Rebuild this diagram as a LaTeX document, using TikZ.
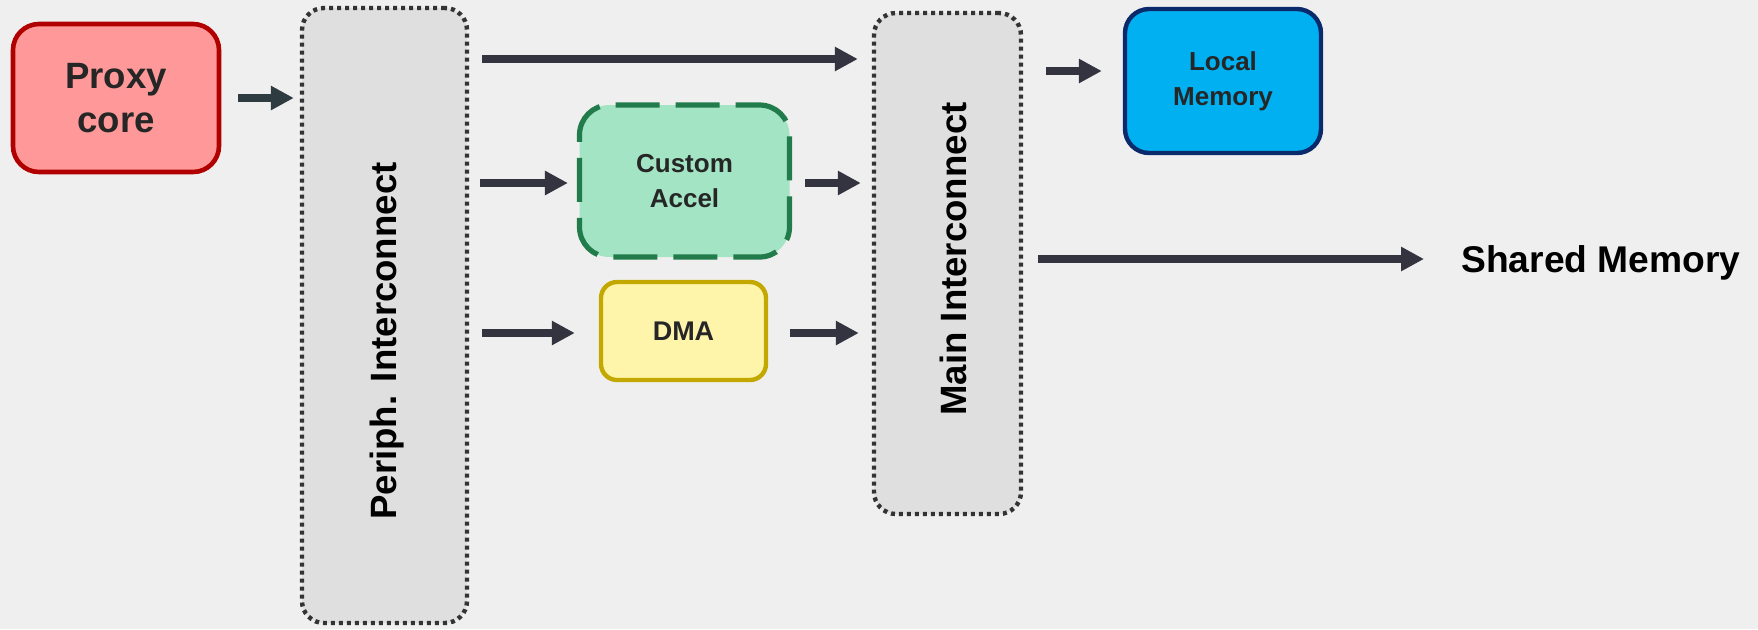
\documentclass[tikz,border=0pt]{standalone}
\usepackage{fontspec}
\setmainfont{Liberation Sans}
\usetikzlibrary{arrows.meta,calc}
\definecolor{bg}{HTML}{EFEFEF}
\definecolor{arrowc}{HTML}{33343F}
\definecolor{arrowd}{HTML}{2E3B40}
\definecolor{proxyfill}{HTML}{FF9999}
\definecolor{proxyline}{HTML}{B00000}
\definecolor{icfill}{HTML}{DFDFDF}
\definecolor{icline}{HTML}{333333}
\definecolor{accfill}{HTML}{A2E4C3}
\definecolor{accline}{HTML}{217B4A}
\definecolor{dmafill}{HTML}{FFF5AA}
\definecolor{dmaline}{HTML}{C2A800}
\definecolor{locfill}{HTML}{00B0F0}
\definecolor{locline}{HTML}{0B2A6B}
\definecolor{txt}{HTML}{262626}
\begin{document}
\begin{tikzpicture}[x=0.5pt,y=-0.5pt,
  blk/.style={align=center, inner sep=0pt, font=\bfseries, text=txt},
  icbox/.style={fill=icfill, draw=icline, line width=2.2pt, dash pattern=on 2pt off 2pt, rounded corners=11pt, inner sep=0pt},
  vlabel/.style={rotate=90, font=\fontsize{18.3}{21}\selectfont\bfseries, text=black, inner sep=0pt},
  arr/.style={draw=arrowc, line width=4pt, -{Triangle[length=11.5pt,width=11.5pt]}},
]
\fill[bg] (0,0) rectangle (1758,629);
\useasboundingbox (0,0) rectangle (1758,629);

% nodes
\node[blk, fill=proxyfill, draw=proxyline, line width=2.3pt, rounded corners=13pt,
      minimum width=103pt, minimum height=74pt, font=\fontsize{18.3}{22}\selectfont\bfseries]
      (proxy) at (116,98) {Proxy\\core};
\node[icbox, minimum width=82.5pt, minimum height=307.5pt] (periph) at (384.5,315.5) {};
\node[vlabel] (periphlbl) at (387,341) {Periph. Interconnect};
\node[icbox, minimum width=73.5pt, minimum height=250.5pt] (main) at (947.5,263.5) {};
\node[vlabel] (mainlbl) at (953,259) {Main Interconnect};
\node[blk, fill=accfill, draw=accline, line width=2.6pt, dash pattern=on 22pt off 8pt, dash phase=10pt,
      rounded corners=15pt, minimum width=105pt, minimum height=76pt,
      font=\fontsize{13}{17.5}\selectfont\bfseries]
      (accel) at (684.5,181) {Custom\\Accel};
\node[blk, fill=dmafill, draw=dmaline, line width=2.2pt, rounded corners=8pt,
      minimum width=82.5pt, minimum height=49pt, font=\fontsize{13.5}{16}\selectfont\bfseries]
      (dma) at (683.5,331) {DMA};
\node[blk, fill=locfill, draw=locline, line width=2.2pt, rounded corners=12pt,
      minimum width=98pt, minimum height=72pt, font=\fontsize{13}{17.5}\selectfont\bfseries]
      (local) at (1223,81) {Local\\Memory};
\node[font=\fontsize{18.6}{21}\selectfont\bfseries, text=black, anchor=west, inner sep=0pt]
      (shared) at (1461,263) {Shared Memory};

% row coordinates
\coordinate (r1) at (0,59);
\coordinate (r2) at (0,71);
\coordinate (r3) at (0,183);
\coordinate (r4) at (0,333);
\coordinate (r5) at (0,259);

% connectors
\draw[arr, draw=arrowd, shorten <=8.5pt, shorten >=3pt] (proxy.east) -- (proxy.east -| periph.west);
\draw[arr, shorten <=6.5pt, shorten >=7pt] (periph.east |- r1) -- (main.west |- r1);
\draw[arr, shorten <=5.5pt, shorten >=4.5pt] (periph.east |- r3) -- (accel.west |- r3);
\draw[arr, shorten <=6.5pt, shorten >=5.5pt] (accel.east |- r3) -- (main.west |- r3);
\draw[arr, shorten <=6.5pt, shorten >=12pt] (periph.east |- r4) -- (dma.west |- r4);
\draw[arr, shorten <=11pt, shorten >=6.5pt] (dma.east |- r4) -- (main.west |- r4);
\draw[arr, shorten <=11.5pt, shorten >=10.5pt] (main.east |- r2) -- (local.west |- r2);
\draw[arr, shorten <=7.5pt, shorten >=18.5pt] (main.east |- r5) -- (shared.west |- r5);
\end{tikzpicture}
\end{document}
